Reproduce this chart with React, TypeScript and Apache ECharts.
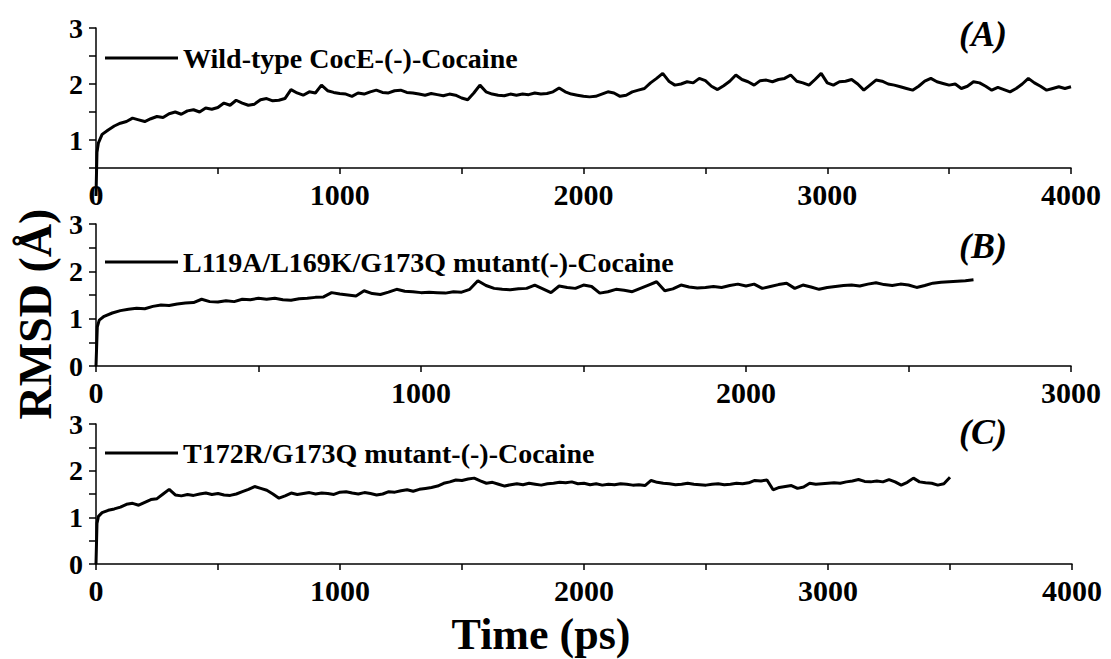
import React, { useEffect, useRef } from "react";
import * as echarts from "echarts";

const FONT = "Liberation Serif, Times New Roman, serif";

// sample spacing of the RMSD traces (ps)
const SAMPLE_STEP_PS = 25;

// (A) Wild-type CocE-(-)-Cocaine
const WT_START: number[][] = [[0, 0.0], [4, 0.78], [10, 0.95]];
const WT_RMSD: number[] = [
  1.10, 1.18, 1.25, 1.30, 1.33, 1.39, 1.36, 1.33, 1.38, 1.42, 1.40, 1.47, 1.50, 1.46, 1.52, 1.54, 1.50, 1.57, 1.55, 1.58,
  1.66, 1.62, 1.71, 1.66, 1.62, 1.64, 1.72, 1.74, 1.70, 1.71, 1.74, 1.90, 1.84, 1.80, 1.86, 1.84, 1.98, 1.88, 1.85, 1.83,
  1.82, 1.78, 1.84, 1.82, 1.86, 1.89, 1.85, 1.84, 1.88, 1.89, 1.85, 1.84, 1.82, 1.80, 1.83, 1.81, 1.79, 1.82, 1.80, 1.75,
  1.72, 1.84, 1.98, 1.86, 1.82, 1.80, 1.79, 1.82, 1.80, 1.82, 1.81, 1.84, 1.82, 1.83, 1.86, 1.93, 1.86, 1.82, 1.80, 1.78,
  1.77, 1.78, 1.82, 1.86, 1.84, 1.78, 1.80, 1.86, 1.89, 1.92, 2.02, 2.10, 2.19, 2.05, 1.98, 2.00, 2.04, 2.02, 2.10, 2.06,
  1.96, 1.90, 1.97, 2.05, 2.16, 2.08, 2.04, 1.98, 2.06, 2.07, 2.04, 2.08, 2.10, 2.16, 2.05, 2.02, 1.98, 2.08, 2.19, 2.02,
  1.98, 2.04, 2.05, 2.08, 2.00, 1.89, 1.98, 2.07, 2.05, 2.00, 1.98, 1.95, 1.92, 1.89, 1.96, 2.05, 2.10, 2.04, 2.01, 1.98,
  2.00, 1.92, 1.96, 2.04, 2.02, 1.96, 1.89, 1.94, 1.90, 1.86, 1.92, 2.00, 2.10, 2.02, 1.96, 1.89, 1.92, 1.95, 1.92, 1.95,
];

// (B) L119A/L169K/G173Q mutant(-)-Cocaine
const TRIPLE_START: number[][] = [[0, 0.0], [4, 0.83], [10, 0.97]];
const TRIPLE_RMSD: number[] = [
  1.05, 1.12, 1.17, 1.20, 1.22, 1.21, 1.26, 1.29, 1.28, 1.31, 1.33, 1.34, 1.41, 1.36, 1.35, 1.38, 1.36, 1.41, 1.40, 1.43,
  1.41, 1.43, 1.40, 1.39, 1.42, 1.43, 1.45, 1.46, 1.55, 1.52, 1.50, 1.48, 1.59, 1.53, 1.51, 1.56, 1.62, 1.58, 1.57, 1.55,
  1.56, 1.55, 1.54, 1.57, 1.56, 1.62, 1.80, 1.70, 1.64, 1.62, 1.61, 1.63, 1.64, 1.71, 1.63, 1.55, 1.69, 1.66, 1.64, 1.71,
  1.68, 1.54, 1.57, 1.62, 1.60, 1.57, 1.64, 1.71, 1.78, 1.59, 1.63, 1.71, 1.67, 1.65, 1.66, 1.68, 1.66, 1.70, 1.73, 1.69,
  1.73, 1.64, 1.68, 1.72, 1.75, 1.64, 1.71, 1.67, 1.62, 1.66, 1.68, 1.70, 1.71, 1.69, 1.73, 1.76, 1.72, 1.70, 1.73, 1.71,
  1.66, 1.70, 1.75, 1.77, 1.78, 1.79, 1.80, 1.82,
];

// (C) T172R/G173Q mutant-(-)-Cocaine
const DOUBLE_START: number[][] = [[0, 0.0], [4, 0.87], [10, 1.02]];
const DOUBLE_RMSD: number[] = [
  1.10, 1.15, 1.18, 1.22, 1.28, 1.30, 1.26, 1.32, 1.38, 1.40, 1.50, 1.60, 1.48, 1.46, 1.49, 1.47, 1.50, 1.52, 1.49, 1.51,
  1.48, 1.47, 1.50, 1.55, 1.60, 1.66, 1.62, 1.58, 1.50, 1.41, 1.46, 1.52, 1.49, 1.51, 1.53, 1.50, 1.52, 1.51, 1.49, 1.54,
  1.55, 1.52, 1.50, 1.53, 1.51, 1.48, 1.50, 1.55, 1.54, 1.57, 1.59, 1.56, 1.60, 1.62, 1.64, 1.67, 1.73, 1.76, 1.80, 1.79,
  1.82, 1.84, 1.78, 1.73, 1.75, 1.71, 1.67, 1.70, 1.72, 1.70, 1.73, 1.71, 1.69, 1.72, 1.73, 1.75, 1.74, 1.76, 1.72, 1.73,
  1.70, 1.72, 1.69, 1.71, 1.70, 1.72, 1.71, 1.69, 1.70, 1.68, 1.79, 1.75, 1.73, 1.72, 1.70, 1.71, 1.73, 1.71, 1.70, 1.69,
  1.71, 1.72, 1.70, 1.71, 1.73, 1.72, 1.74, 1.79, 1.78, 1.80, 1.59, 1.64, 1.66, 1.68, 1.62, 1.65, 1.73, 1.71, 1.72, 1.73,
  1.74, 1.73, 1.76, 1.78, 1.81, 1.77, 1.76, 1.78, 1.76, 1.81, 1.76, 1.69, 1.75, 1.84, 1.76, 1.74, 1.73, 1.69, 1.72, 1.86,
];

const SERIES_NAMES = [
  "Wild-type CocE-(-)-Cocaine",
  "L119A/L169K/G173Q mutant(-)-Cocaine",
  "T172R/G173Q mutant-(-)-Cocaine",
];
const PANEL_TAGS = ["(A)", "(B)", "(C)"];
const X_MAX = [4000, 3000, 4000];
const Y_MIN = [0.5, 0, 0];
const Y_MAX = 3;
const X_TICK_STEP = 500;
const X_LABEL_STEP = 1000;
const Y_TICK_STEP = 0.5;
const X_TITLE = "Time (ps)";
const Y_TITLE = "RMSD (Å)";

function toPoints(start: number[][], values: number[]): number[][] {
  return [...start, ...values.map((v, i) => [SAMPLE_STEP_PS * (i + 1), v])];
}

const SERIES_DATA = [
  toPoints(WT_START, WT_RMSD),
  toPoints(TRIPLE_START, TRIPLE_RMSD),
  toPoints(DOUBLE_START, DOUBLE_RMSD),
];

// layout
const GRIDS = [
  { left: 96, top: 28, width: 975, height: 140 },
  { left: 96, top: 224, width: 975, height: 142 },
  { left: 96, top: 424, width: 976, height: 140 },
];
const LEGEND_TOPS = [44, 248, 439];
const TAG_POS = [
  [983, 34],
  [983, 246],
  [983, 432],
];

export default function App() {
  const ref = useRef<HTMLDivElement>(null);

  useEffect(() => {
    if (!ref.current) return;
    const chart = echarts.init(ref.current, undefined, { renderer: "svg" });

    const axisLineStyle = { color: "#000", width: 1.5 };
    const labelStyle = {
      fontFamily: FONT,
      fontWeight: "bold" as const,
      color: "#000",
    };

    const option: any = {
      animation: false,
      backgroundColor: "#fff",
      grid: GRIDS.map((g) => ({ ...g, containLabel: false })),
      xAxis: GRIDS.map((_, i) => ({
        type: "value",
        gridIndex: i,
        min: 0,
        max: X_MAX[i],
        interval: X_TICK_STEP,
        axisLine: { show: true, onZero: false, lineStyle: axisLineStyle },
        axisTick: { show: true, length: 6, lineStyle: axisLineStyle },
        splitLine: { show: false },
        axisLabel: {
          ...labelStyle,
          fontSize: 30,
          margin: 11,
          formatter: (v: number) => (v % X_LABEL_STEP === 0 ? String(v) : ""),
        },
      })),
      yAxis: GRIDS.map((_, i) => ({
        type: "value",
        gridIndex: i,
        min: Y_MIN[i],
        max: Y_MAX,
        interval: Y_TICK_STEP,
        axisLine: { show: true, onZero: false, lineStyle: axisLineStyle },
        axisTick: { show: true, length: 7, lineStyle: axisLineStyle },
        splitLine: { show: false },
        axisLabel: {
          ...labelStyle,
          fontSize: 28,
          margin: 13,
          formatter: (v: number) => (Math.abs(v - Math.round(v)) < 1e-6 ? String(Math.round(v)) : ""),
        },
      })),
      legend: SERIES_NAMES.map((name, i) => ({
        data: [name],
        left: 105,
        top: LEGEND_TOPS[i],
        padding: 0,
        icon: "rect",
        itemWidth: 73,
        itemHeight: 3,
        selectedMode: false,
        textStyle: { ...labelStyle, fontSize: 28 },
      })),
      series: SERIES_NAMES.map((name, i) => ({
        name,
        type: "line",
        xAxisIndex: i,
        yAxisIndex: i,
        data: SERIES_DATA[i],
        showSymbol: false,
        symbol: "none",
        clip: false,
        itemStyle: { color: "#000" },
        lineStyle: { color: "#000", width: 3 },
      })),
      graphic: [
        {
          type: "text",
          x: 35,
          y: 314,
          rotation: Math.PI / 2,
          style: {
            text: Y_TITLE,
            font: `bold 46px ${FONT}`,
            fill: "#000",
            textAlign: "center",
            textVerticalAlign: "middle",
            align: "center",
            verticalAlign: "middle",
          },
        },
        {
          type: "text",
          x: 541,
          y: 634,
          style: {
            text: X_TITLE,
            font: `bold 44px ${FONT}`,
            fill: "#000",
            textAlign: "center",
            textVerticalAlign: "middle",
            align: "center",
            verticalAlign: "middle",
          },
        },
        ...PANEL_TAGS.map((tag, i) => ({
          type: "text",
          x: TAG_POS[i][0],
          y: TAG_POS[i][1],
          style: {
            text: tag,
            font: `italic bold 36px ${FONT}`,
            fill: "#000",
            textAlign: "center",
            textVerticalAlign: "middle",
            align: "center",
            verticalAlign: "middle",
          },
        })),
      ],
    };

    chart.setOption(option);
    return () => chart.dispose();
  }, []);

  return (
    <div
      ref={ref}
      style={{ position: "absolute", left: 0, top: 0, width: 1111, height: 659 }}
    />
  );
}
